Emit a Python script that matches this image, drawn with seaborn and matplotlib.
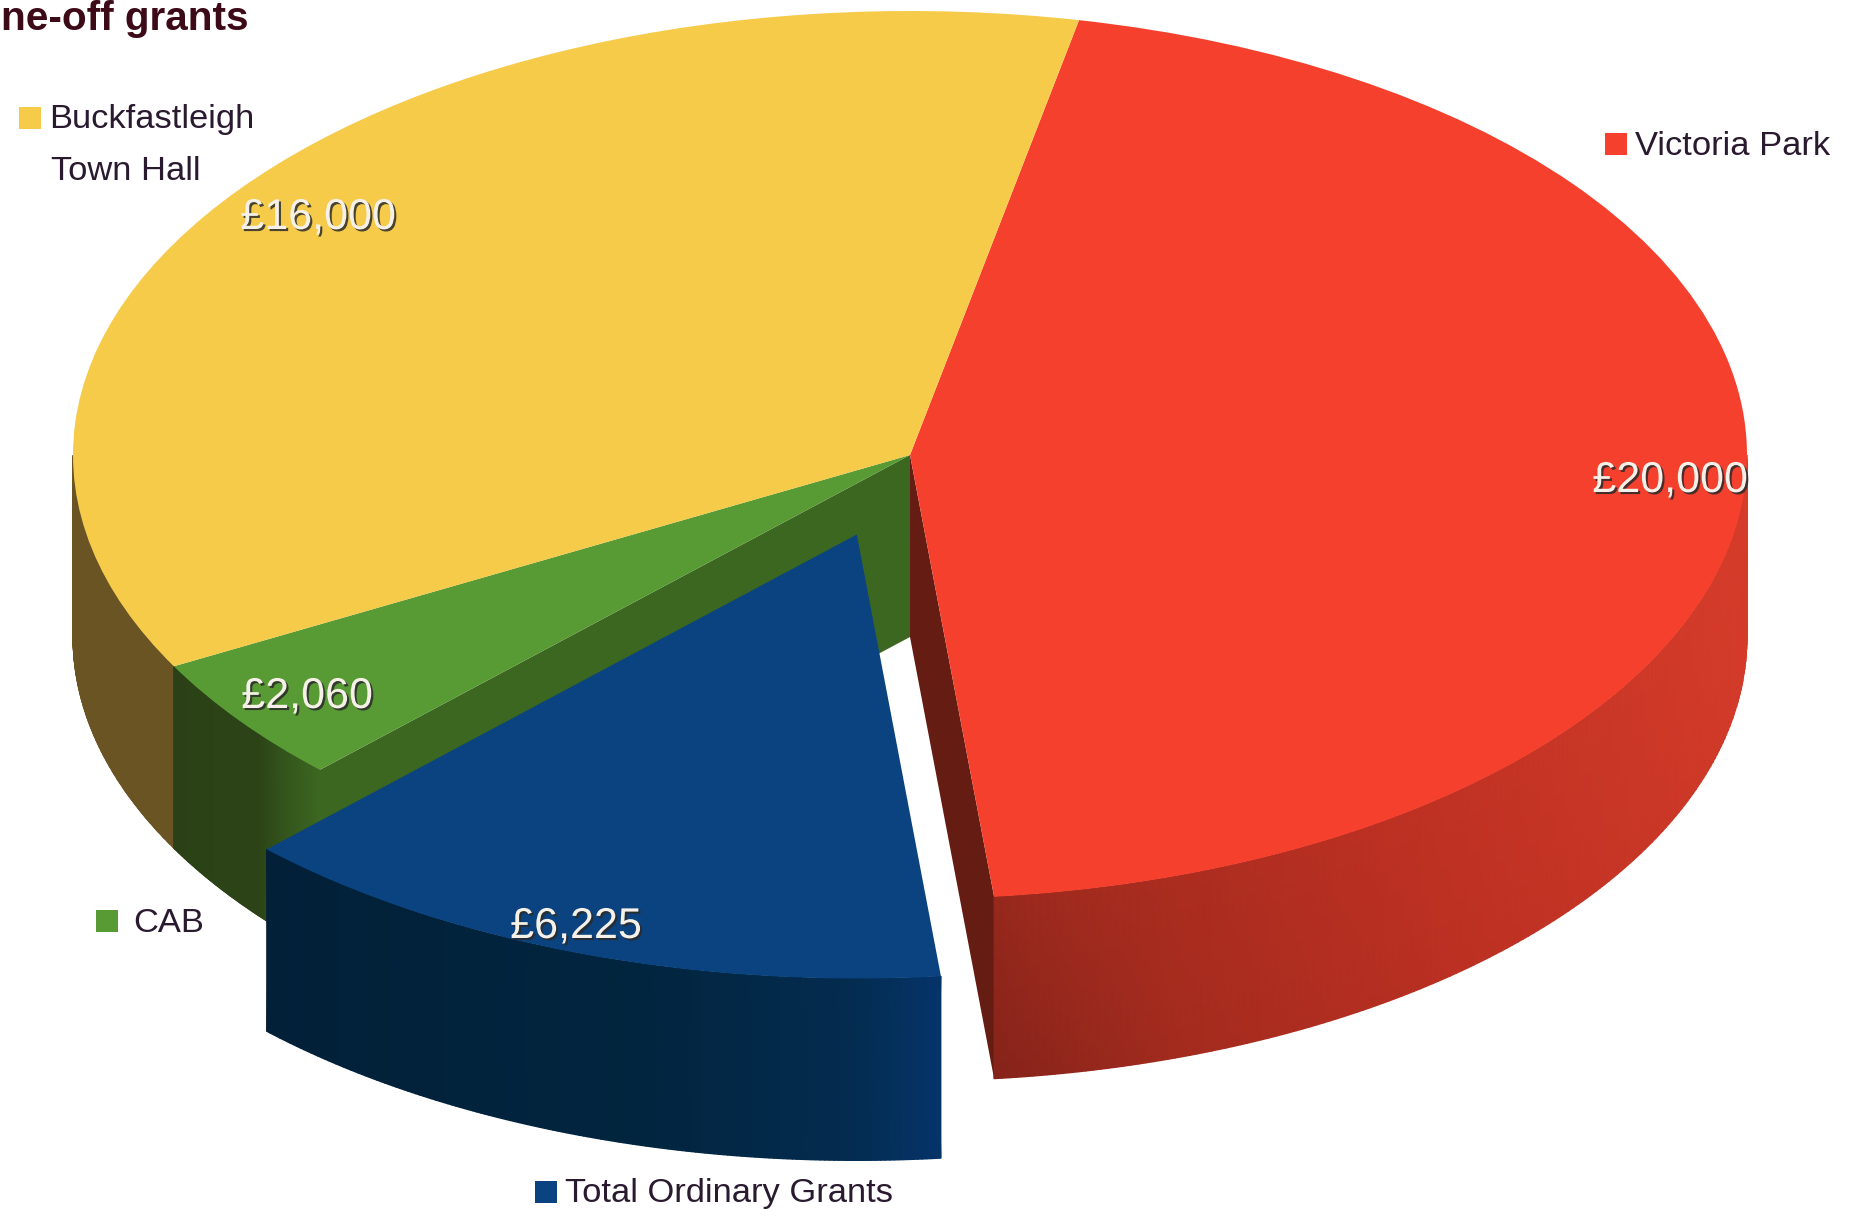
#!/usr/bin/env python3
# -*- coding: utf-8 -*-
import numpy as np
import matplotlib
matplotlib.use('Agg')
import matplotlib.pyplot as plt
import matplotlib.patheffects as pe
from matplotlib.colors import LinearSegmentedColormap
import seaborn as sns

# data, clockwise from the back of the pie
grant_names = ['Victoria Park', 'Total Ordinary Grants', 'CAB', 'Buckfastleigh\nTown Hall']
grant_values = [20000, 6225, 2060, 16000]
value_labels = ['£20,000', '£6,225', '£2,060', '£16,000']
title_text = 'ne-off grants'

top_colors = sns.color_palette(['#f6402e', '#0a437f', '#589a33', '#f6cb4a'])
explode = [0, 0.19, 0, 0]
start_angle = 78.35

# picture layout, in pixels
W, H = 1853, 1224
CX, CY, RX, RY = 910, 455, 837, 444
DEPTH = 182 / RY

sns.set_theme(style='white')
plt.rcParams['font.family'] = ['Liberation Sans', 'DejaVu Sans']


def px(x, y):
    return (x - CX) / RX, (CY - y) / RY


fig = plt.figure(figsize=(W / 100, H / 100), dpi=100, facecolor='white')
ax = fig.add_axes([0, 0, 1, 1])

wedges, _ = ax.pie(grant_values, colors=top_colors, explode=explode, startangle=start_angle,
                   counterclock=False, radius=1, wedgeprops={'linewidth': 0})
ax.set_aspect('auto')
ax.set_xlim(px(0, 0)[0], px(W, 0)[0])
ax.set_ylim(px(0, H)[1], px(0, 0)[1])
ax.axis('off')

# slice edges in degrees, worked out from the values
sweep = 360 * np.array(grant_values) / np.sum(grant_values)
edges = start_angle - np.concatenate([[0], np.cumsum(sweep)])
red_a, red_b = edges[0], edges[1]
blue_a, blue_b = edges[1], edges[2]
green_a, green_b = edges[2], edges[3]
mid = np.radians((blue_a + blue_b) / 2)
blue_dx, blue_dy = explode[1] * np.cos(mid), explode[1] * np.sin(mid)


def wall(a, b, stops, z, dx=0.0, dy=0.0, diagonal=False):
    # curved outside of a slice, shaded along the angle or across the picture
    t = np.radians(np.linspace(a, b, 160))
    s = np.array([0.0, 1.0])
    X = np.outer(np.ones(2), np.cos(t) + dx)
    Y = np.outer(np.ones(2), np.sin(t) + dy) - np.outer(s, np.full(t.size, DEPTH))
    if diagonal:
        gx, gy = 760, -480
        x0, y0 = px(990, 1077)
        C = ((X - x0) * RX * gx - (Y - y0) * RY * gy) / (gx ** 2 + gy ** 2)
    else:
        C = np.outer(np.ones(2), np.linspace(0, 1, t.size))
    cmap = LinearSegmentedColormap.from_list('wall', stops)
    ax.pcolormesh(X, Y, np.clip(C, 0, 1), shading='gouraud', cmap=cmap, vmin=0, vmax=1, zorder=z)


def cut_face(angle, color, z):
    t = np.radians(angle)
    ax.fill([0, np.cos(t), np.cos(t), 0], [0, np.sin(t), np.sin(t) - DEPTH, -DEPTH],
            color=color, linewidth=0, zorder=z)


# back to front
wall(-180, green_b + 0.2, [(0, '#6a5423'), (1, '#6a5423')], 1)
cut_face(blue_b, '#3c6721', 2)
wall(green_b, green_a, [(0, '#2b4016'), (0.62, '#2c4317'), (0.8, '#34561c'), (1, '#3c6721')], 3)
cut_face(red_b, '#651c12', 4)
wall(red_b, 0, [(0, '#85231a'), (0.18, '#a22b1e'), (0.5, '#bb3022'), (1, '#d63c2a')], 5, diagonal=True)
wall(blue_b, blue_a, [(0, '#022038'), (0.6, '#02253f'), (0.88, '#042c50'), (1, '#05346a')],
     7, dx=blue_dx, dy=blue_dy)

for w, z in zip(wedges, [6, 8, 6, 6]):
    w.set_zorder(z)

# value labels on the slices
label_pos = [(1670, 492), (576, 938), (307, 708), (318, 229)]
for lab, (x, y) in zip(value_labels, label_pos):
    t = ax.text(*px(x, y), lab, color='#f6f1e8', fontsize=31, ha='center', va='baseline', zorder=10)
    t.set_path_effects([pe.withSimplePatchShadow(offset=(1.5, -1.5), shadow_rgbFace='#2a2a2a', alpha=0.85)])

# legend keys and names
key_pos = [(1616, 144), (546, 1192), (107, 921), (30, 118)]
name_pos = [(1635, 155), (565, 1202), (133, 932), (49, 128)]
for name, c, k, n in zip(grant_names, top_colors, key_pos, name_pos):
    ax.scatter(*px(*k), marker='s', s=250, color=[c], linewidths=0, zorder=10)
    first = name.split('\n')
    ax.text(*px(*n), first[0], color='#2a1a30', fontsize=24.8, ha='left', va='baseline', zorder=10)
    if len(first) > 1:
        ax.text(*px(n[0] + 2, n[1] + 52), first[1], color='#2a1a30', fontsize=24.8, ha='left',
                va='baseline', zorder=10)

ax.text(*px(1, 30), title_text, color='#3d0a18', fontsize=29.2, fontweight='bold', ha='left',
        va='baseline', zorder=10)

plt.savefig('out.png', dpi=100)
